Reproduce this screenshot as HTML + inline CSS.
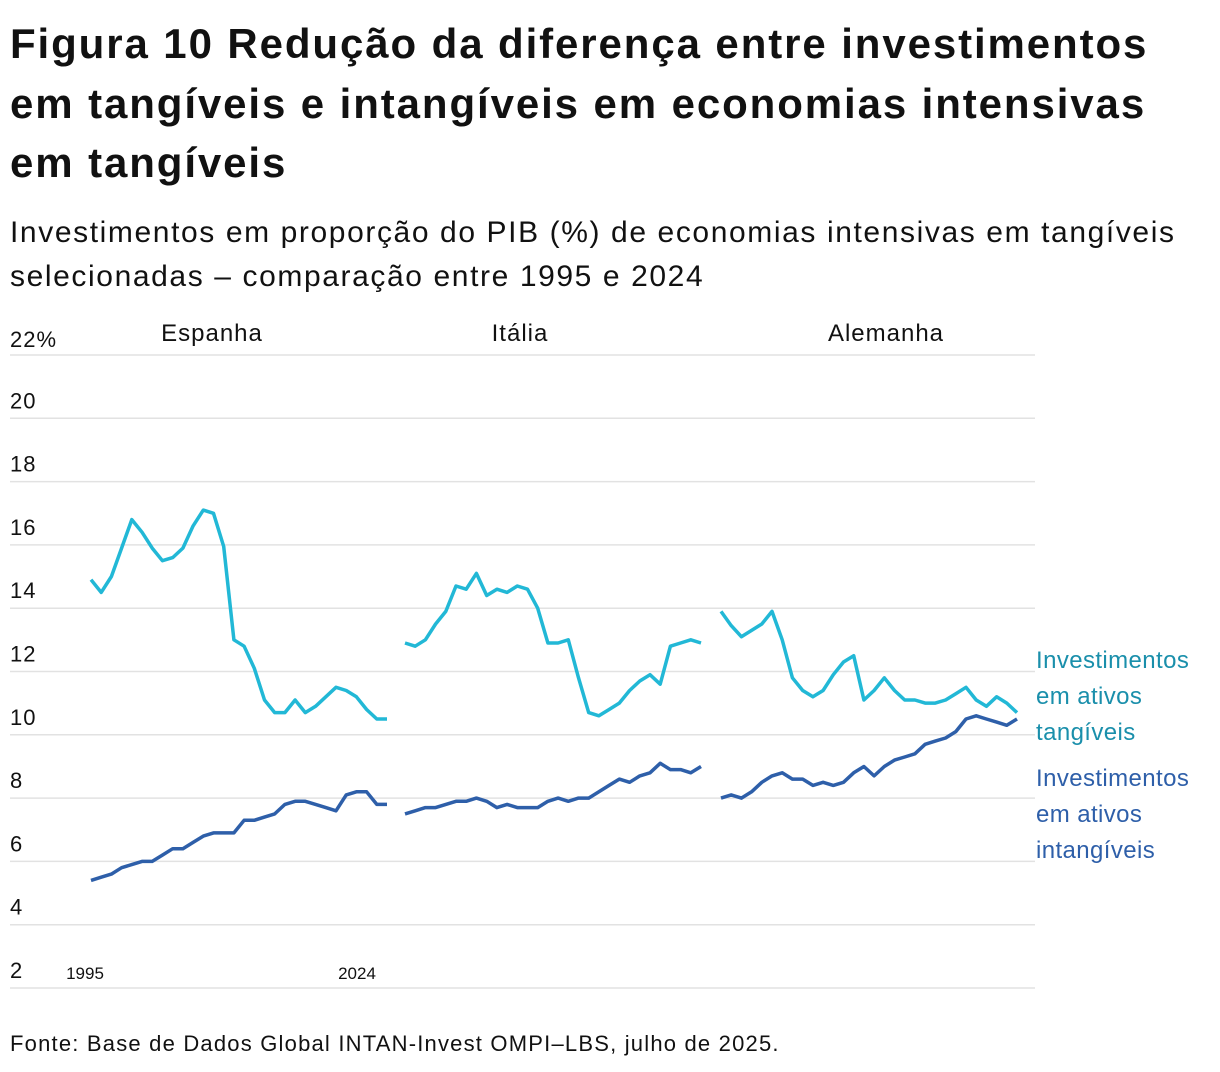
<!DOCTYPE html>
<html><head><meta charset="utf-8">
<style>
body{margin:0;background:#fff;width:1220px;height:1072px;overflow:hidden;font-family:"Liberation Sans",sans-serif;color:#111;}
h1{position:absolute;left:10px;top:14px;margin:0;font-size:42px;line-height:59.5px;font-weight:bold;width:1220px;letter-spacing:1.9px;white-space:nowrap;}
.sub{position:absolute;left:10px;top:211px;font-size:30px;line-height:44px;width:1220px;letter-spacing:1.6px;white-space:nowrap;}
.src{position:absolute;left:10px;top:1031px;font-size:22px;letter-spacing:1.2px;}
svg{position:absolute;left:0;top:0;}
</style></head><body>
<h1>Figura 10 Redução da diferença entre investimentos<br>em tangíveis e intangíveis em economias intensivas<br>em tangíveis</h1>
<div class="sub">Investimentos em proporção do PIB (%) de economias intensivas em tangíveis<br>selecionadas – comparação entre 1995 e 2024</div>
<div class="src">Fonte: Base de Dados Global INTAN-Invest OMPI–LBS, julho de 2025.</div>
<svg id="chart" width="1220" height="1072"></svg>
<script>
const yTicks=[22,20,18,16,14,12,10,8,6,4,2];
const panelNames=["Espanha","Itália","Alemanha"];
const spainTangible=[14.9,14.5,15.0,15.9,16.8,16.4,15.9,15.5,15.6,15.9,16.6,17.1,17.0,15.95,13.0,12.8,12.1,11.1,10.7,10.7,11.1,10.7,10.9,11.2,11.5,11.4,11.2,10.8,10.5,10.5];
const spainIntangible=[5.4,5.5,5.6,5.8,5.9,6.0,6.0,6.2,6.4,6.4,6.6,6.8,6.9,6.9,6.9,7.3,7.3,7.4,7.5,7.8,7.9,7.9,7.8,7.7,7.6,8.1,8.2,8.2,7.8,7.8];
const italyTangible=[12.9,12.8,13.0,13.5,13.9,14.7,14.6,15.1,14.4,14.6,14.5,14.7,14.6,14.0,12.9,12.9,13.0,11.8,10.7,10.6,10.8,11.0,11.4,11.7,11.9,11.6,12.8,12.9,13.0,12.9];
const italyIntangible=[7.5,7.6,7.7,7.7,7.8,7.9,7.9,8.0,7.9,7.7,7.8,7.7,7.7,7.7,7.9,8.0,7.9,8.0,8.0,8.2,8.4,8.6,8.5,8.7,8.8,9.1,8.9,8.9,8.8,9.0];
const germanyTangible=[13.9,13.45,13.1,13.3,13.5,13.9,13.0,11.8,11.4,11.2,11.4,11.9,12.3,12.5,11.1,11.4,11.8,11.4,11.1,11.1,11.0,11.0,11.1,11.3,11.5,11.1,10.9,11.2,11.0,10.7];
const germanyIntangible=[8.0,8.1,8.0,8.2,8.5,8.7,8.8,8.6,8.6,8.4,8.5,8.4,8.5,8.8,9.0,8.7,9.0,9.2,9.3,9.4,9.7,9.8,9.9,10.1,10.5,10.6,10.5,10.4,10.3,10.5];

const svg=document.getElementById('chart');
const NS='http://www.w3.org/2000/svg';
function y(v){return 355+(22-v)*31.65;}
const panelX0=[91,405,721], panelW=296;
function x(p,i,n){return panelX0[p]+i*panelW/(n-1);}
function mk(tag,attrs){const e=document.createElementNS(NS,tag);for(const k in attrs)e.setAttribute(k,attrs[k]);svg.appendChild(e);return e;}

yTicks.forEach((t,i)=>{
  const g=mk('line',{x1:10,x2:1035,y1:y(t),y2:y(t),stroke:'#e2e2e2','stroke-width':1.5});
  
  
  const tx=mk('text',{x:10,y:y(t)-10,'font-size':22,fill:'#111','letter-spacing':1});
  tx.textContent=i===0?t+'%':String(t);
  if(i===0)tx.setAttribute('y',y(t)-8);
  
  
});
const titleX=[212,520,886];
panelNames.forEach((n,p)=>{
  const t=mk('text',{x:titleX[p],y:341,'text-anchor':'middle','font-size':24,fill:'#111','letter-spacing':1});
  t.textContent=n;
  
  
});
[['1995',85],['2024',357]].forEach(([s,xx])=>{
  const t=mk('text',{x:xx,y:979,'text-anchor':'middle','font-size':17,fill:'#111'});
  t.textContent=s;
  
  
});
const series=[[spainTangible,spainIntangible],[italyTangible,italyIntangible],[germanyTangible,germanyIntangible]];
series.forEach((pair,p)=>{
  pair.forEach((arr,k)=>{
    const d=arr.map((v,i)=>(i?'L':'M')+x(p,i,arr.length).toFixed(1)+','+y(v).toFixed(1)).join(' ');
    const path=mk('path',{d:d,fill:'none',stroke:k===0?'#22b8d6':'#2e5fa9','stroke-width':3.5,'stroke-linejoin':'round'});
    
    
  });
});
function legend(lines,y0,color,name){
  lines.forEach((s,i)=>{
    const t=mk('text',{x:1036,y:y0+i*36,'font-size':24,fill:color,'letter-spacing':0.4});
    t.textContent=s;
    
    
  });
}
legend(['Investimentos','em ativos','tangíveis'],668,'#1a8fab','legend-tangible');
legend(['Investimentos','em ativos','intangíveis'],786,'#2e5fa9','legend-intangible');
</script>
</body></html>
